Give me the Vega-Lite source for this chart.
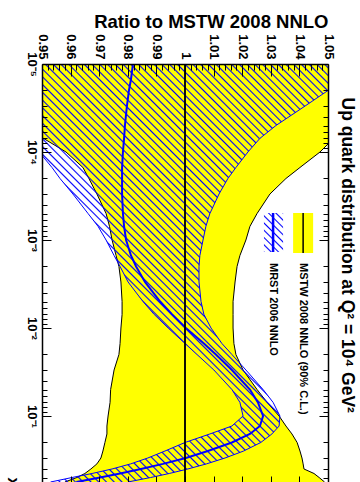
{
"$schema": "https://vega.github.io/schema/vega-lite/v6.json",
"width": 286, "height": 418,
"autosize": {"type": "none"},
"padding": {"left": 42, "top": 64, "right": 32, "bottom": 0},
"background": "white",
"config": {"view": {"stroke": null}, "font": "Liberation Sans", "axis": {"labelOverlap": false}},
"datasets": {
"mstw": [
{"x":0.00001,"lo":0.925,"hi":1.070},
{"x":0.000015,"lo":0.930,"hi":1.068},
{"x":0.00002,"lo":0.935,"hi":1.066},
{"x":0.00003,"lo":0.940,"hi":1.063},
{"x":0.00005,"lo":0.946,"hi":1.058},
{"x":0.00007,"lo":0.9505,"hi":1.052},
{"x":0.0001,"lo":0.9584,"hi":1.0472},
{"x":0.00015,"lo":0.9643,"hi":1.0402},
{"x":0.0002,"lo":0.9664,"hi":1.0353},
{"x":0.0003,"lo":0.9692,"hi":1.0297},
{"x":0.0005,"lo":0.9724,"hi":1.0252},
{"x":0.0007,"lo":0.9736,"hi":1.0227},
{"x":0.001,"lo":0.9745,"hi":1.0213},
{"x":0.0015,"lo":0.9759,"hi":1.0192},
{"x":0.002,"lo":0.9769,"hi":1.0182},
{"x":0.003,"lo":0.9776,"hi":1.0175},
{"x":0.005,"lo":0.9780,"hi":1.0168},
{"x":0.007,"lo":0.9780,"hi":1.0168},
{"x":0.01,"lo":0.9776,"hi":1.0168},
{"x":0.015,"lo":0.9773,"hi":1.0171},
{"x":0.02,"lo":0.9769,"hi":1.0178},
{"x":0.03,"lo":0.9752,"hi":1.0203},
{"x":0.05,"lo":0.9740,"hi":1.0252},
{"x":0.07,"lo":0.9738,"hi":1.0287},
{"x":0.1,"lo":0.9731,"hi":1.0329},
{"x":0.13,"lo":0.9727,"hi":1.0353},
{"x":0.16,"lo":0.9727,"hi":1.0374},
{"x":0.2,"lo":0.9720,"hi":1.0392},
{"x":0.25,"lo":0.9713,"hi":1.0402},
{"x":0.3,"lo":0.9706,"hi":1.0409},
{"x":0.35,"lo":0.9692,"hi":1.0413},
{"x":0.4,"lo":0.9671,"hi":1.0416},
{"x":0.45,"lo":0.9650,"hi":1.0451},
{"x":0.5,"lo":0.9622,"hi":1.0469},
{"x":0.5623,"lo":0.9580,"hi":1.0488}
],
"mrst": [
{"x":0.00001,"lo":0.940,"c":0.9818,"hi":1.065},
{"x":0.000015,"lo":0.941,"c":0.9811,"hi":1.060},
{"x":0.00002,"lo":0.942,"c":0.9804,"hi":1.050},
{"x":0.00003,"lo":0.943,"c":0.9797,"hi":1.042},
{"x":0.00005,"lo":0.945,"c":0.9790,"hi":1.0318},
{"x":0.00007,"lo":0.947,"c":0.9787,"hi":1.0262},
{"x":0.0001,"lo":0.949,"c":0.9783,"hi":1.0220},
{"x":0.00015,"lo":0.9535,"c":0.9780,"hi":1.0178},
{"x":0.0002,"lo":0.9563,"c":0.9780,"hi":1.0150},
{"x":0.0003,"lo":0.9608,"c":0.9780,"hi":1.0119},
{"x":0.0005,"lo":0.9661,"c":0.9783,"hi":1.0087},
{"x":0.0007,"lo":0.9696,"c":0.9787,"hi":1.0073},
{"x":0.001,"lo":0.9724,"c":0.9794,"hi":1.0063},
{"x":0.0015,"lo":0.9752,"c":0.9811,"hi":1.0052},
{"x":0.002,"lo":0.9773,"c":0.9829,"hi":1.0049},
{"x":0.003,"lo":0.9801,"c":0.9860,"hi":1.0049},
{"x":0.005,"lo":0.9853,"c":0.9913,"hi":1.0056},
{"x":0.007,"lo":0.9892,"c":0.9955,"hi":1.0066},
{"x":0.01,"lo":0.9941,"c":1.0003,"hi":1.0091},
{"x":0.015,"lo":1.0000,"c":1.0066,"hi":1.0129},
{"x":0.02,"lo":1.0042,"c":1.0108,"hi":1.0164},
{"x":0.03,"lo":1.0101,"c":1.0164,"hi":1.0213},
{"x":0.05,"lo":1.0164,"c":1.0227,"hi":1.0273},
{"x":0.07,"lo":1.0192,"c":1.0255,"hi":1.0308},
{"x":0.1,"lo":1.0203,"c":1.0273,"hi":1.0332},
{"x":0.13,"lo":1.0164,"c":1.0262,"hi":1.0329},
{"x":0.16,"lo":1.0087,"c":1.0227,"hi":1.0304},
{"x":0.2,"lo":1.0000,"c":1.0164,"hi":1.0265},
{"x":0.25,"lo":0.9930,"c":1.0080,"hi":1.0205},
{"x":0.3,"lo":0.9870,"c":1.0003,"hi":1.0140},
{"x":0.35,"lo":0.9810,"c":0.9923,"hi":1.0075},
{"x":0.4,"lo":0.9745,"c":0.9846,"hi":1.0010},
{"x":0.45,"lo":0.9675,"c":0.9773,"hi":0.9945},
{"x":0.5,"lo":0.9605,"c":0.9703,"hi":0.9880},
{"x":0.5623,"lo":0.9530,"c":0.9620,"hi":0.9800}
],
"central": [
{"x":0.00001,"r":1},
{"x":0.5623,"r":1}
]
},
"layer": [
{
"layer": [
{
"data": {"name": "mstw"},
"mark": {"type": "area", "orient": "horizontal", "fill": "#ffff00", "clip": true},
"encoding": {
"y": {"field": "x", "type": "quantitative",
"scale": {"type": "log", "domain": [0.00001, 0.5623], "nice": false, "reverse": true},
"axis": {"orient": "left", "title": "x",
"values": [0.00001,0.00002,0.00003,0.00004,0.00005,0.00006,0.00007,0.00008,0.00009,0.0001,0.0002,0.0003,0.0004,0.0005,0.0006,0.0007,0.0008,0.0009,0.001,0.002,0.003,0.004,0.005,0.006,0.007,0.008,0.009,0.01,0.02,0.03,0.04,0.05,0.06,0.07,0.08,0.09,0.1,0.2,0.3,0.4,0.5],
"labelExpr": "datum.value == 0.00001 ? '10⁻⁵' : datum.value == 0.0001 ? '10⁻⁴' : datum.value == 0.001 ? '10⁻³' : datum.value == 0.01 ? '10⁻²' : datum.value == 0.1 ? '10⁻¹' : ''",
"labelAngle": 90, "labelAlign": "center", "labelBaseline": "top",
"labelFont": "Liberation Sans", "labelFontWeight": "bold", "labelColor": "black",
"labelFontSize": {"condition": {"test": "datum.value == 0.00001 || datum.value == 0.0001 || datum.value == 0.001 || datum.value == 0.01 || datum.value == 0.1", "value": 13}, "value": 0},
"labelPadding": 14, "labelFlush": false, "labelOverlap": false, "labelBound": false,
"tickSize": {"condition": {"test": "datum.value == 0.00001 || datum.value == 0.0001 || datum.value == 0.001 || datum.value == 0.01 || datum.value == 0.1", "value": -9}, "value": -5},
"tickColor": "black", "tickWidth": 1,
"domainColor": "black", "domainWidth": 1.5, "grid": false, "zindex": 1,
"titleFont": "Liberation Sans", "titleFontWeight": "bold", "titleFontSize": 16, "titleColor": "black",
"titleAngle": 90, "titleAlign": "left", "titleBaseline": "alphabetic", "titleX": -35, "titleY": 413}
},
"x": {"field": "lo", "type": "quantitative",
"scale": {"domain": [0.95, 1.05], "nice": false, "zero": false},
"axis": {"orient": "top", "title": "Ratio to MSTW 2008 NNLO",
"values": [0.95,0.97,0.99,1.01,1.03,1.05],
"format": ".2~f",
"labelAngle": 90, "labelAlign": "right", "labelBaseline": "middle",
"labelFont": "Liberation Sans", "labelFontWeight": "bold", "labelColor": "black", "labelFontSize": 13,
"labelPadding": 17, "labelFlush": false, "labelOverlap": false, "labelBound": false,
"tickSize": -12,
"tickColor": "black", "tickWidth": 1,
"domainColor": "black", "domainWidth": 1.5, "grid": false, "zindex": 1,
"titleFont": "Liberation Sans", "titleFontWeight": "bold", "titleFontSize": 18.5, "titleColor": "black",
"titleAngle": 0, "titleAlign": "right", "titleBaseline": "alphabetic", "titleX": 286, "titleY": -37}
},
"x2": {"field": "hi"}
}
},
{
"data": {"name": "mstw"},
"mark": {"type": "line", "color": "black", "strokeWidth": 1, "clip": true},
"encoding": {"y": {"field": "x", "type": "quantitative"}, "x": {"field": "lo", "type": "quantitative"}, "order": {"field": "x"}}
},
{
"data": {"name": "mstw"},
"mark": {"type": "line", "color": "black", "strokeWidth": 1, "clip": true},
"encoding": {"y": {"field": "x", "type": "quantitative"}, "x": {"field": "hi", "type": "quantitative"}, "order": {"field": "x"}}
},
{
"data": {"name": "mrst"},
"mark": {"type": "area", "orient": "horizontal", "clip": true,
"fill": {"gradient": "linear", "x1": 0, "y1": 1, "x2": 0.9164, "y2": -0.0715, "stops": [
{"offset":0,"color":"#00f"},{"offset":0.002,"color":"#00f0"},
{"offset":0.008,"color":"#00f0"},{"offset":0.01,"color":"#00f"},{"offset":0.012,"color":"#00f0"},
{"offset":0.018,"color":"#00f0"},{"offset":0.02,"color":"#00f"},{"offset":0.022,"color":"#00f0"},
{"offset":0.028,"color":"#00f0"},{"offset":0.03,"color":"#00f"},{"offset":0.032,"color":"#00f0"},
{"offset":0.038,"color":"#00f0"},{"offset":0.04,"color":"#00f"},{"offset":0.042,"color":"#00f0"},
{"offset":0.048,"color":"#00f0"},{"offset":0.05,"color":"#00f"},{"offset":0.052,"color":"#00f0"},
{"offset":0.058,"color":"#00f0"},{"offset":0.06,"color":"#00f"},{"offset":0.062,"color":"#00f0"},
{"offset":0.068,"color":"#00f0"},{"offset":0.07,"color":"#00f"},{"offset":0.072,"color":"#00f0"},
{"offset":0.078,"color":"#00f0"},{"offset":0.08,"color":"#00f"},{"offset":0.082,"color":"#00f0"},
{"offset":0.088,"color":"#00f0"},{"offset":0.09,"color":"#00f"},{"offset":0.092,"color":"#00f0"},
{"offset":0.098,"color":"#00f0"},{"offset":0.1,"color":"#00f"},{"offset":0.102,"color":"#00f0"},
{"offset":0.108,"color":"#00f0"},{"offset":0.11,"color":"#00f"},{"offset":0.112,"color":"#00f0"},
{"offset":0.118,"color":"#00f0"},{"offset":0.12,"color":"#00f"},{"offset":0.122,"color":"#00f0"},
{"offset":0.128,"color":"#00f0"},{"offset":0.13,"color":"#00f"},{"offset":0.132,"color":"#00f0"},
{"offset":0.138,"color":"#00f0"},{"offset":0.14,"color":"#00f"},{"offset":0.142,"color":"#00f0"},
{"offset":0.148,"color":"#00f0"},{"offset":0.15,"color":"#00f"},{"offset":0.152,"color":"#00f0"},
{"offset":0.158,"color":"#00f0"},{"offset":0.16,"color":"#00f"},{"offset":0.162,"color":"#00f0"},
{"offset":0.168,"color":"#00f0"},{"offset":0.17,"color":"#00f"},{"offset":0.172,"color":"#00f0"},
{"offset":0.178,"color":"#00f0"},{"offset":0.18,"color":"#00f"},{"offset":0.182,"color":"#00f0"},
{"offset":0.188,"color":"#00f0"},{"offset":0.19,"color":"#00f"},{"offset":0.192,"color":"#00f0"},
{"offset":0.198,"color":"#00f0"},{"offset":0.2,"color":"#00f"},{"offset":0.202,"color":"#00f0"},
{"offset":0.208,"color":"#00f0"},{"offset":0.21,"color":"#00f"},{"offset":0.212,"color":"#00f0"},
{"offset":0.218,"color":"#00f0"},{"offset":0.22,"color":"#00f"},{"offset":0.222,"color":"#00f0"},
{"offset":0.228,"color":"#00f0"},{"offset":0.23,"color":"#00f"},{"offset":0.232,"color":"#00f0"},
{"offset":0.238,"color":"#00f0"},{"offset":0.24,"color":"#00f"},{"offset":0.242,"color":"#00f0"},
{"offset":0.248,"color":"#00f0"},{"offset":0.25,"color":"#00f"},{"offset":0.252,"color":"#00f0"},
{"offset":0.258,"color":"#00f0"},{"offset":0.26,"color":"#00f"},{"offset":0.262,"color":"#00f0"},
{"offset":0.268,"color":"#00f0"},{"offset":0.27,"color":"#00f"},{"offset":0.272,"color":"#00f0"},
{"offset":0.278,"color":"#00f0"},{"offset":0.28,"color":"#00f"},{"offset":0.282,"color":"#00f0"},
{"offset":0.288,"color":"#00f0"},{"offset":0.29,"color":"#00f"},{"offset":0.292,"color":"#00f0"},
{"offset":0.298,"color":"#00f0"},{"offset":0.3,"color":"#00f"},{"offset":0.302,"color":"#00f0"},
{"offset":0.308,"color":"#00f0"},{"offset":0.31,"color":"#00f"},{"offset":0.312,"color":"#00f0"},
{"offset":0.318,"color":"#00f0"},{"offset":0.32,"color":"#00f"},{"offset":0.322,"color":"#00f0"},
{"offset":0.328,"color":"#00f0"},{"offset":0.33,"color":"#00f"},{"offset":0.332,"color":"#00f0"},
{"offset":0.338,"color":"#00f0"},{"offset":0.34,"color":"#00f"},{"offset":0.342,"color":"#00f0"},
{"offset":0.348,"color":"#00f0"},{"offset":0.35,"color":"#00f"},{"offset":0.352,"color":"#00f0"},
{"offset":0.358,"color":"#00f0"},{"offset":0.36,"color":"#00f"},{"offset":0.362,"color":"#00f0"},
{"offset":0.368,"color":"#00f0"},{"offset":0.37,"color":"#00f"},{"offset":0.372,"color":"#00f0"},
{"offset":0.378,"color":"#00f0"},{"offset":0.38,"color":"#00f"},{"offset":0.382,"color":"#00f0"},
{"offset":0.388,"color":"#00f0"},{"offset":0.39,"color":"#00f"},{"offset":0.392,"color":"#00f0"},
{"offset":0.398,"color":"#00f0"},{"offset":0.4,"color":"#00f"},{"offset":0.402,"color":"#00f0"},
{"offset":0.408,"color":"#00f0"},{"offset":0.41,"color":"#00f"},{"offset":0.412,"color":"#00f0"},
{"offset":0.418,"color":"#00f0"},{"offset":0.42,"color":"#00f"},{"offset":0.422,"color":"#00f0"},
{"offset":0.428,"color":"#00f0"},{"offset":0.43,"color":"#00f"},{"offset":0.432,"color":"#00f0"},
{"offset":0.438,"color":"#00f0"},{"offset":0.44,"color":"#00f"},{"offset":0.442,"color":"#00f0"},
{"offset":0.448,"color":"#00f0"},{"offset":0.45,"color":"#00f"},{"offset":0.452,"color":"#00f0"},
{"offset":0.458,"color":"#00f0"},{"offset":0.46,"color":"#00f"},{"offset":0.462,"color":"#00f0"},
{"offset":0.468,"color":"#00f0"},{"offset":0.47,"color":"#00f"},{"offset":0.472,"color":"#00f0"},
{"offset":0.478,"color":"#00f0"},{"offset":0.48,"color":"#00f"},{"offset":0.482,"color":"#00f0"},
{"offset":0.488,"color":"#00f0"},{"offset":0.49,"color":"#00f"},{"offset":0.492,"color":"#00f0"},
{"offset":0.498,"color":"#00f0"},{"offset":0.5,"color":"#00f"},{"offset":0.502,"color":"#00f0"},
{"offset":0.508,"color":"#00f0"},{"offset":0.51,"color":"#00f"},{"offset":0.512,"color":"#00f0"},
{"offset":0.518,"color":"#00f0"},{"offset":0.52,"color":"#00f"},{"offset":0.522,"color":"#00f0"},
{"offset":0.528,"color":"#00f0"},{"offset":0.53,"color":"#00f"},{"offset":0.532,"color":"#00f0"},
{"offset":0.538,"color":"#00f0"},{"offset":0.54,"color":"#00f"},{"offset":0.542,"color":"#00f0"},
{"offset":0.548,"color":"#00f0"},{"offset":0.55,"color":"#00f"},{"offset":0.552,"color":"#00f0"},
{"offset":0.558,"color":"#00f0"},{"offset":0.56,"color":"#00f"},{"offset":0.562,"color":"#00f0"},
{"offset":0.568,"color":"#00f0"},{"offset":0.57,"color":"#00f"},{"offset":0.572,"color":"#00f0"},
{"offset":0.578,"color":"#00f0"},{"offset":0.58,"color":"#00f"},{"offset":0.582,"color":"#00f0"},
{"offset":0.588,"color":"#00f0"},{"offset":0.59,"color":"#00f"},{"offset":0.592,"color":"#00f0"},
{"offset":0.598,"color":"#00f0"},{"offset":0.6,"color":"#00f"},{"offset":0.602,"color":"#00f0"},
{"offset":0.608,"color":"#00f0"},{"offset":0.61,"color":"#00f"},{"offset":0.612,"color":"#00f0"},
{"offset":0.618,"color":"#00f0"},{"offset":0.62,"color":"#00f"},{"offset":0.622,"color":"#00f0"},
{"offset":0.628,"color":"#00f0"},{"offset":0.63,"color":"#00f"},{"offset":0.632,"color":"#00f0"},
{"offset":0.638,"color":"#00f0"},{"offset":0.64,"color":"#00f"},{"offset":0.642,"color":"#00f0"},
{"offset":0.648,"color":"#00f0"},{"offset":0.65,"color":"#00f"},{"offset":0.652,"color":"#00f0"},
{"offset":0.658,"color":"#00f0"},{"offset":0.66,"color":"#00f"},{"offset":0.662,"color":"#00f0"},
{"offset":0.668,"color":"#00f0"},{"offset":0.67,"color":"#00f"},{"offset":0.672,"color":"#00f0"},
{"offset":0.678,"color":"#00f0"},{"offset":0.68,"color":"#00f"},{"offset":0.682,"color":"#00f0"},
{"offset":0.688,"color":"#00f0"},{"offset":0.69,"color":"#00f"},{"offset":0.692,"color":"#00f0"},
{"offset":0.698,"color":"#00f0"},{"offset":0.7,"color":"#00f"},{"offset":0.702,"color":"#00f0"},
{"offset":0.708,"color":"#00f0"},{"offset":0.71,"color":"#00f"},{"offset":0.712,"color":"#00f0"},
{"offset":0.718,"color":"#00f0"},{"offset":0.72,"color":"#00f"},{"offset":0.722,"color":"#00f0"},
{"offset":0.728,"color":"#00f0"},{"offset":0.73,"color":"#00f"},{"offset":0.732,"color":"#00f0"},
{"offset":0.738,"color":"#00f0"},{"offset":0.74,"color":"#00f"},{"offset":0.742,"color":"#00f0"},
{"offset":0.748,"color":"#00f0"},{"offset":0.75,"color":"#00f"},{"offset":0.752,"color":"#00f0"},
{"offset":0.758,"color":"#00f0"},{"offset":0.76,"color":"#00f"},{"offset":0.762,"color":"#00f0"},
{"offset":0.768,"color":"#00f0"},{"offset":0.77,"color":"#00f"},{"offset":0.772,"color":"#00f0"},
{"offset":0.778,"color":"#00f0"},{"offset":0.78,"color":"#00f"},{"offset":0.782,"color":"#00f0"},
{"offset":0.788,"color":"#00f0"},{"offset":0.79,"color":"#00f"},{"offset":0.792,"color":"#00f0"},
{"offset":0.798,"color":"#00f0"},{"offset":0.8,"color":"#00f"},{"offset":0.802,"color":"#00f0"},
{"offset":0.808,"color":"#00f0"},{"offset":0.81,"color":"#00f"},{"offset":0.812,"color":"#00f0"},
{"offset":0.818,"color":"#00f0"},{"offset":0.82,"color":"#00f"},{"offset":0.822,"color":"#00f0"},
{"offset":0.828,"color":"#00f0"},{"offset":0.83,"color":"#00f"},{"offset":0.832,"color":"#00f0"},
{"offset":0.838,"color":"#00f0"},{"offset":0.84,"color":"#00f"},{"offset":0.842,"color":"#00f0"},
{"offset":0.848,"color":"#00f0"},{"offset":0.85,"color":"#00f"},{"offset":0.852,"color":"#00f0"},
{"offset":0.858,"color":"#00f0"},{"offset":0.86,"color":"#00f"},{"offset":0.862,"color":"#00f0"},
{"offset":0.868,"color":"#00f0"},{"offset":0.87,"color":"#00f"},{"offset":0.872,"color":"#00f0"},
{"offset":0.878,"color":"#00f0"},{"offset":0.88,"color":"#00f"},{"offset":0.882,"color":"#00f0"},
{"offset":0.888,"color":"#00f0"},{"offset":0.89,"color":"#00f"},{"offset":0.892,"color":"#00f0"},
{"offset":0.898,"color":"#00f0"},{"offset":0.9,"color":"#00f"},{"offset":0.902,"color":"#00f0"},
{"offset":0.908,"color":"#00f0"},{"offset":0.91,"color":"#00f"},{"offset":0.912,"color":"#00f0"},
{"offset":0.918,"color":"#00f0"},{"offset":0.92,"color":"#00f"},{"offset":0.922,"color":"#00f0"},
{"offset":0.928,"color":"#00f0"},{"offset":0.93,"color":"#00f"},{"offset":0.932,"color":"#00f0"},
{"offset":0.938,"color":"#00f0"},{"offset":0.94,"color":"#00f"},{"offset":0.942,"color":"#00f0"},
{"offset":0.948,"color":"#00f0"},{"offset":0.95,"color":"#00f"},{"offset":0.952,"color":"#00f0"},
{"offset":0.958,"color":"#00f0"},{"offset":0.96,"color":"#00f"},{"offset":0.962,"color":"#00f0"},
{"offset":0.968,"color":"#00f0"},{"offset":0.97,"color":"#00f"},{"offset":0.972,"color":"#00f0"},
{"offset":0.978,"color":"#00f0"},{"offset":0.98,"color":"#00f"},{"offset":0.982,"color":"#00f0"},
{"offset":0.988,"color":"#00f0"},{"offset":0.99,"color":"#00f"},{"offset":0.992,"color":"#00f0"},
{"offset":0.998,"color":"#00f0"},{"offset":1,"color":"#00f"}
]}},
"encoding": {"y": {"field": "x", "type": "quantitative"}, "x": {"field": "lo", "type": "quantitative"}, "x2": {"field": "hi"}}
},
{
"data": {"name": "mrst"},
"mark": {"type": "line", "color": "#0000ff", "strokeWidth": 1, "clip": true},
"encoding": {"y": {"field": "x", "type": "quantitative"}, "x": {"field": "lo", "type": "quantitative"}, "order": {"field": "x"}}
},
{
"data": {"name": "mrst"},
"mark": {"type": "line", "color": "#0000ff", "strokeWidth": 1, "clip": true},
"encoding": {"y": {"field": "x", "type": "quantitative"}, "x": {"field": "hi", "type": "quantitative"}, "order": {"field": "x"}}
},
{
"data": {"name": "mrst"},
"mark": {"type": "line", "color": "#0000ff", "strokeWidth": 2, "clip": true},
"encoding": {"y": {"field": "x", "type": "quantitative"}, "x": {"field": "c", "type": "quantitative"}, "order": {"field": "x"}}
},
{
"data": {"values": [{}]},
"mark": {"type": "rule", "color": "black", "strokeWidth": 1.5},
"encoding": {"x": {"datum": 1, "type": "quantitative"}, "y": {"datum": 0.00001, "type": "quantitative"}, "y2": {"datum": 0.5623}}
},
{
"data": {"values": [{}]},
"mark": {"type": "rect", "fill": "#ffff00"},
"encoding": {"x": {"datum": 1.0378, "type": "quantitative"}, "x2": {"datum": 1.0448}, "y": {"datum": 0.0004933, "type": "quantitative"}, "y2": {"datum": 0.001405}}
},
{
"data": {"values": [{}]},
"mark": {"type": "rule", "color": "black", "strokeWidth": 1.5},
"encoding": {"x": {"datum": 1.0413, "type": "quantitative"}, "y": {"datum": 0.0004933, "type": "quantitative"}, "y2": {"datum": 0.001405}}
},
{
"data": {"values": [{}]},
"mark": {"type": "rect",
"fill": {"gradient": "linear", "x1": 0, "y1": 1, "x2": 0.5855, "y2": -0.2019, "stops": [
{"offset":0,"color":"#00f"},{"offset":0.026,"color":"#00f0"},
{"offset":0.099,"color":"#00f0"},{"offset":0.125,"color":"#00f"},{"offset":0.151,"color":"#00f0"},
{"offset":0.224,"color":"#00f0"},{"offset":0.25,"color":"#00f"},{"offset":0.276,"color":"#00f0"},
{"offset":0.349,"color":"#00f0"},{"offset":0.375,"color":"#00f"},{"offset":0.401,"color":"#00f0"},
{"offset":0.474,"color":"#00f0"},{"offset":0.5,"color":"#00f"},{"offset":0.526,"color":"#00f0"},
{"offset":0.599,"color":"#00f0"},{"offset":0.625,"color":"#00f"},{"offset":0.651,"color":"#00f0"},
{"offset":0.724,"color":"#00f0"},{"offset":0.75,"color":"#00f"},{"offset":0.776,"color":"#00f0"},
{"offset":0.849,"color":"#00f0"},{"offset":0.875,"color":"#00f"},{"offset":0.901,"color":"#00f0"},
{"offset":0.974,"color":"#00f0"},{"offset":1,"color":"#00f"}
]}},
"encoding": {"x": {"datum": 1.0276, "type": "quantitative"}, "x2": {"datum": 1.0343}, "y": {"datum": 0.0004933, "type": "quantitative"}, "y2": {"datum": 0.001369}}
},
{
"data": {"values": [{}]},
"mark": {"type": "rule", "color": "#0000ff", "strokeWidth": 2.5},
"encoding": {"x": {"datum": 1.0308, "type": "quantitative"}, "y": {"datum": 0.0004933, "type": "quantitative"}, "y2": {"datum": 0.001369}}
}
]
},
{
"data": {"name": "central"},
"mark": {"type": "line", "color": "black", "strokeWidth": 1.5, "clip": true},
"encoding": {
"y": {"field": "x", "type": "quantitative",
"scale": {"type": "log", "domain": [0.00001, 0.5623], "nice": false, "reverse": true},
"axis": {"orient": "right", "title": "Up quark distribution at Q² = 10⁴ GeV²",
"values": [0.00001,0.00002,0.00003,0.00004,0.00005,0.00006,0.00007,0.00008,0.00009,0.0001,0.0002,0.0003,0.0004,0.0005,0.0006,0.0007,0.0008,0.0009,0.001,0.002,0.003,0.004,0.005,0.006,0.007,0.008,0.009,0.01,0.02,0.03,0.04,0.05,0.06,0.07,0.08,0.09,0.1,0.2,0.3,0.4,0.5],
"labels": false,
"tickSize": {"condition": {"test": "datum.value == 0.00001 || datum.value == 0.0001 || datum.value == 0.001 || datum.value == 0.01 || datum.value == 0.1", "value": -9}, "value": -5},
"tickColor": "black", "tickWidth": 1,
"domainColor": "black", "domainWidth": 1.5, "grid": false, "zindex": 1,
"titleFont": "Liberation Sans", "titleFontWeight": "bold", "titleFontSize": 17.5, "titleColor": "black",
"titleAngle": 90, "titleAlign": "left", "titleBaseline": "alphabetic", "titleX": 13, "titleY": 33}
},
"x": {"field": "r", "type": "quantitative",
"scale": {"domain": [0.95, 1.05], "nice": false, "zero": false},
"axis": {"orient": "top", "title": null,
"values": [0.952,0.954,0.956,0.958,0.962,0.964,0.966,0.968,0.972,0.974,0.976,0.978,0.982,0.984,0.986,0.988,0.992,0.994,0.996,0.998,1.002,1.004,1.006,1.008,1.012,1.014,1.016,1.018,1.022,1.024,1.026,1.028,1.032,1.034,1.036,1.038,1.042,1.044,1.046,1.048],
"labels": false, "domain": false,
"tickSize": -6, "tickColor": "black", "tickWidth": 1, "grid": false, "zindex": 1}
},
"order": {"field": "x"}
}
},
{
"data": {"values": [{}]},
"mark": {"type": "text", "text": "MRST 2006 NNLO", "angle": 90, "align": "left", "baseline": "middle", "font": "Liberation Sans", "fontWeight": "bold", "fontSize": 11, "color": "black"},
"encoding": {
"x": {"datum": 1.0308, "type": "quantitative",
"scale": {"domain": [0.95, 1.05], "nice": false, "zero": false},
"axis": {"orient": "bottom", "title": null,
"values": [0.96,0.97,0.98,0.99,1,1.01,1.02,1.03,1.04],
"labels": false, "domain": false,
"tickSize": -6, "tickColor": "black", "tickWidth": 1, "grid": false, "zindex": 1}},
"y": {"datum": 0.001826, "type": "quantitative",
"scale": {"type": "log", "domain": [0.00001, 0.5623], "nice": false, "reverse": true},
"axis": null}
}
},
{
"data": {"values": [{}]},
"mark": {"type": "text", "text": "MSTW 2008 NNLO (90% C.L.)", "angle": 90, "align": "left", "baseline": "middle", "font": "Liberation Sans", "fontWeight": "bold", "fontSize": 11, "color": "black"},
"encoding": {
"x": {"datum": 1.0413, "type": "quantitative",
"scale": {"domain": [0.95, 1.05], "nice": false, "zero": false},
"axis": {"orient": "top", "title": null,
"values": [0.96,0.98,1,1.02,1.04],
"format": ".2~f",
"labelAngle": 90, "labelAlign": "right", "labelBaseline": "middle",
"labelFont": "Liberation Sans", "labelFontWeight": "bold", "labelColor": "black", "labelFontSize": 13,
"labelPadding": 17, "labelFlush": false, "labelOverlap": false, "labelBound": false,
"domain": false,
"tickSize": -12, "tickColor": "black", "tickWidth": 1, "grid": false, "zindex": 1}},
"y": {"datum": 0.001826, "type": "quantitative",
"scale": {"type": "log", "domain": [0.00001, 0.5623], "nice": false, "reverse": true},
"axis": null}
}
}
],
"resolve": {"axis": {"x": "independent", "y": "independent"}}
}
